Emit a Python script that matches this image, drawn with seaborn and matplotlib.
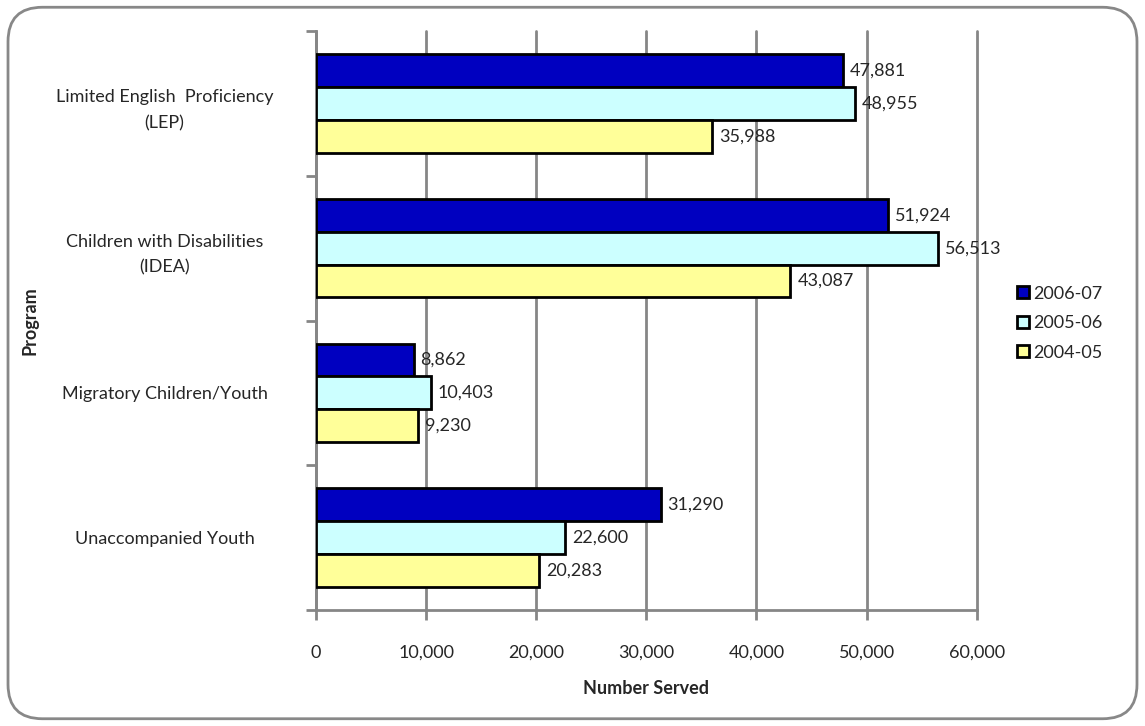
import matplotlib
matplotlib.use("Agg")
import matplotlib.pyplot as plt
from matplotlib.patches import FancyBboxPatch, Patch
from matplotlib.ticker import FuncFormatter
import seaborn as sns
import pandas as pd

programs = ["Limited English  Proficiency\n(LEP)", "Children with Disabilities\n(IDEA)",
            "Migratory Children/Youth", "Unaccompanied Youth"]
years = ["2006-07", "2005-06", "2004-05"]
served_0607 = [47881, 51924, 8862, 31290]
served_0506 = [48955, 56513, 10403, 22600]
served_0405 = [35988, 43087, 9230, 20283]
colors = ["#0000C0", "#CCFFFF", "#FFFF99"]

rows = []
for yr, vals in zip(years, [served_0607, served_0506, served_0405]):
    for p, v in zip(programs, vals):
        rows.append({"Program": p, "Year": yr, "Served": v})
df = pd.DataFrame(rows)

sns.set_style("white")
plt.rcParams['font.family'] = ['Lato', 'DejaVu Sans']

fig = plt.figure(figsize=(11.45, 7.26), dpi=100)
ax = fig.add_axes([0.276, 0.160, 0.577, 0.797])

sns.barplot(data=df, y="Program", x="Served", hue="Year", hue_order=years,
            order=programs, palette=colors, saturation=1, orient="h", width=0.68,
            edgecolor="black", linewidth=2, ax=ax, legend=False, zorder=3)

for cont in ax.containers:
    ax.bar_label(cont, labels=[f"{v:,.0f}" for v in cont.datavalues],
                 padding=5, fontsize=13)

ax.set_xlim(0, 60000)
ax.set_ylim(len(programs) - 0.5, -0.5)
ax.set_xticks(range(0, 60001, 10000))
ax.xaxis.set_major_formatter(FuncFormatter(lambda v, p: f"{v:,.0f}"))
ax.grid(axis="x", color="#868686", linewidth=2, zorder=0)
for gl in ax.get_xgridlines():
    gl.set_clip_on(False)
ax.set_axisbelow(True)

for s in ["top", "right"]:
    ax.spines[s].set_visible(False)
for s in ["left", "bottom"]:
    ax.spines[s].set_color("#868686")
    ax.spines[s].set_linewidth(2)

ax.tick_params(axis="x", direction="out", length=7, width=2, color="#868686",
               labelsize=13, pad=18, bottom=True)
ax.tick_params(axis="y", which="major", length=0, labelsize=13)
ax.set_yticks([i + 0.5 for i in range(-1, len(programs))], minor=True)
ax.tick_params(axis="y", which="minor", direction="out", length=7, width=2,
               color="#868686", left=True)
for lbl in ax.get_yticklabels():
    lbl.set_horizontalalignment("center")
    lbl.set_multialignment("center")
    lbl.set_linespacing(1.75)
    lbl.set_x(-0.222)

ax.set_xlabel("Number Served", fontsize=13, fontweight="bold", labelpad=14)
ax.set_ylabel("Program", fontsize=13, fontweight="bold")
ax.yaxis.set_label_coords(-0.42, 0.5)

handles = [Patch(facecolor=c, edgecolor="black", linewidth=2) for c in colors]
fig.legend(handles, years, loc="center left", bbox_to_anchor=(0.874, 0.555),
           frameon=False, fontsize=13, handlelength=0.65, handleheight=0.65,
           handletextpad=0.25, labelspacing=0.75)

border = FancyBboxPatch((0.007, 0.01), 0.986, 0.98, boxstyle="round,pad=0,rounding_size=0.03",
                        transform=fig.transFigure, facecolor="none",
                        edgecolor="#888888", linewidth=2, mutation_aspect=1145 / 726)
fig.patches.append(border)

fig.savefig("out.png", dpi=100)
